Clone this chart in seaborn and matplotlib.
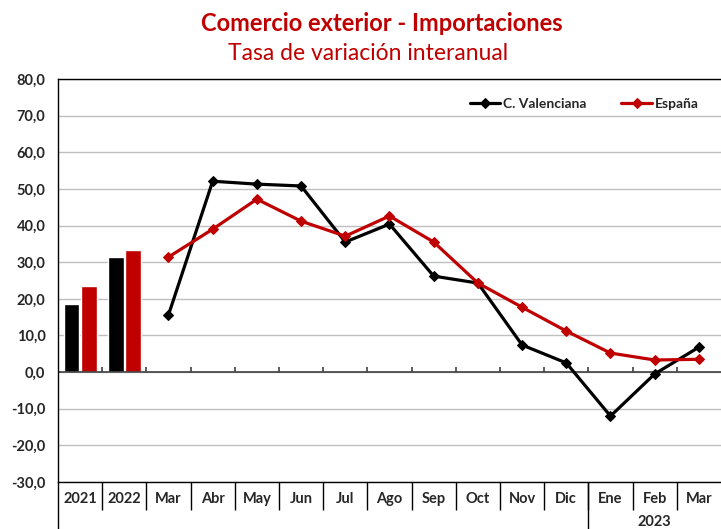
import pandas as pd
import numpy as np
import matplotlib
matplotlib.use("Agg")
import matplotlib.pyplot as plt
import seaborn as sns
from matplotlib.ticker import FuncFormatter, MultipleLocator

# datos
categorias = ["2021", "2022", "Mar", "Abr", "May", "Jun", "Jul", "Ago",
              "Sep", "Oct", "Nov", "Dic", "Ene", "Feb", "Mar "]
anios = ["2021", "2022"]
anual_cv = [18.6, 31.5]
anual_esp = [23.6, 33.3]
meses = categorias[2:]
mensual_cv = [15.6, 52.1, 51.3, 50.8, 35.5, 40.4, 26.2, 24.3, 7.4, 2.5, -12.0, -0.5, 6.8]
mensual_esp = [31.4, 39.0, 47.2, 41.2, 37.1, 42.6, 35.5, 24.3, 17.7, 11.2, 5.2, 3.3, 3.5]

ROJO = "#C00000"
NEGRO = "#000000"

sns.set_style("white")
plt.rcParams['font.family'] = ['Lato', 'DejaVu Sans']

fig = plt.figure(figsize=(7.21, 5.29), dpi=100)
ax = fig.add_axes([0.0804, 0.0888, 0.9196, 0.7619])

# barras anuales
df_bar = pd.DataFrame({
    "cat": anios * 2,
    "valor": anual_cv + anual_esp,
    "serie": ["C. Valenciana"] * 2 + ["España"] * 2,
})
sns.barplot(data=df_bar, x="cat", y="valor", hue="serie", order=categorias,
            palette=[NEGRO, ROJO], width=0.78, gap=0.08, legend=False, ax=ax,
            saturation=1)

# lineas mensuales
pos = np.arange(2, len(categorias))
sns.lineplot(x=pos, y=mensual_cv, color=NEGRO, linewidth=2.3, marker="D",
             markersize=5, markeredgecolor=NEGRO, label="C. Valenciana", ax=ax)
sns.lineplot(x=pos, y=mensual_esp, color=ROJO, linewidth=2.3, marker="D",
             markersize=5, markeredgecolor=ROJO, label="España", ax=ax)

ax.set_xlim(-0.5, len(categorias) - 0.5)
ax.set_ylim(-30, 80)
ax.yaxis.set_major_locator(MultipleLocator(10))
ax.yaxis.set_major_formatter(FuncFormatter(lambda v, p: f"{v:.1f}".replace(".", ",")))
ax.grid(axis="y", color="#BFBFBF", linewidth=1)
ax.set_axisbelow(True)
ax.set_xlabel("")
ax.set_ylabel("")
ax.tick_params(axis="y", length=0, pad=9)
for lbl in ax.get_yticklabels():
    lbl.set_fontweight("bold")
    lbl.set_fontsize(10.5)

ax.set_xticks(range(len(categorias)))
ax.set_xticklabels([c.strip() for c in categorias], fontweight="bold", fontsize=10.5)
ax.tick_params(axis="x", length=0, pad=7)

for s in ["right"]:
    ax.spines[s].set_visible(False)
for s in ["left", "top", "bottom"]:
    ax.spines[s].set_color("black")
    ax.spines[s].set_linewidth(1)

# eje en cero con marcas
ax.axhline(0, color="#404040", linewidth=1.2, zorder=1.5)
bordes = np.arange(0.5, len(categorias) - 1, 1.0)
ax.vlines(bordes, 0, 1.3, color="#404040", linewidth=1.2, zorder=1.5)

# separadores de la tabla de categorias
trans = ax.get_xaxis_transform()
ax.vlines(bordes, -0.07, 0, transform=trans, color="black", linewidth=1, clip_on=False)
ax.vlines([-0.5, 11.5], -0.13, 0, transform=trans, color="black", linewidth=1, clip_on=False)
ax.text(13, -0.098, "2023", transform=trans, ha="center", va="center",
        fontweight="bold", fontsize=10.5)

leg = ax.legend(loc="upper right", bbox_to_anchor=(0.985, 0.985), ncol=2,
                frameon=False, handlelength=2.2, columnspacing=2.5,
                handletextpad=0.2, prop={"weight": "bold", "size": 10})

fig.text(0.529, 0.956, "Comercio exterior - Importaciones", ha="center", va="center",
         color=ROJO, fontsize=17, fontweight="bold")
fig.text(0.51, 0.898, "Tasa de variación interanual", ha="center", va="center",
         color=ROJO, fontsize=16.5)

fig.savefig("out.png", dpi=100)
